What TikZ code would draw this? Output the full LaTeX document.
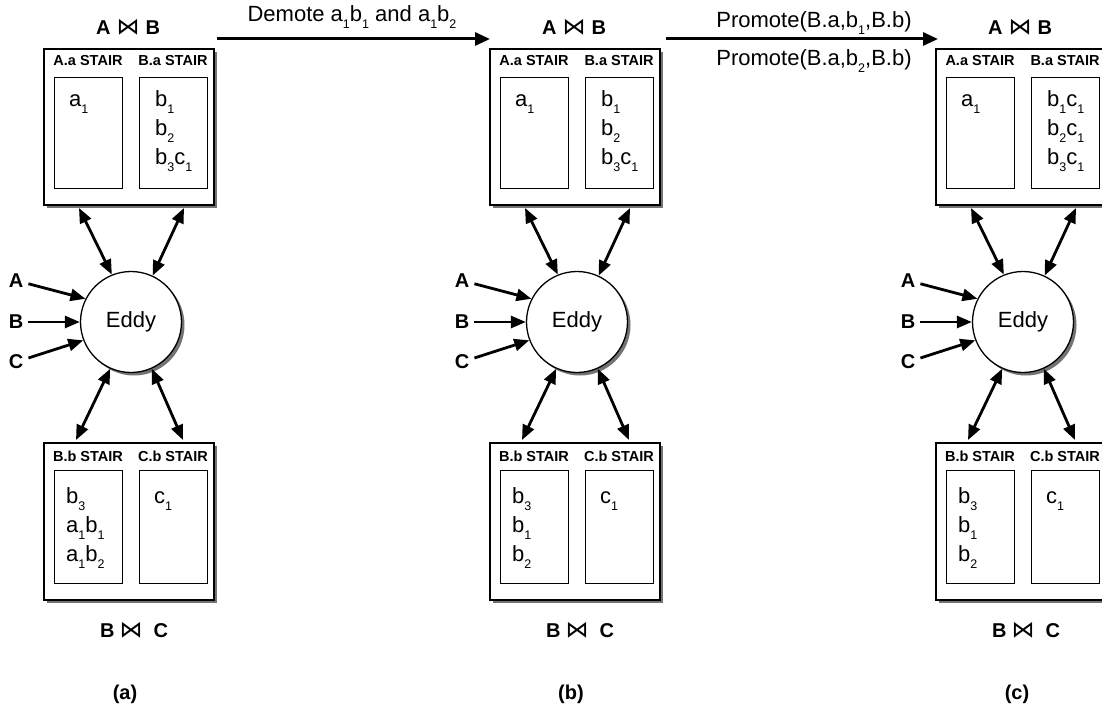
\documentclass[tikz,border=0pt]{standalone}
\usepackage{fontspec}
\setmainfont{Liberation Sans}
\newfontfamily\dejavu{DejaVu Sans}
\usetikzlibrary{arrows.meta,shadows}
\newcommand\sub[1]{\raisebox{-7pt}{\fontsize{12.5}{12}\selectfont #1}}
\newcommand\bowsym{{\dejavu\mdseries\fontsize{23}{23}\selectfont ⋈}}
\tikzset{
  shad/.style={drop shadow={shadow xshift=3pt, shadow yshift=-3pt, fill=black!55, opacity=1}},
  outerbox/.style={draw, line width=1.8pt, fill=white, minimum width=170pt, inner sep=0, shad},
  innerbox/.style={draw, line width=0.8pt, minimum width=68pt, inner sep=0},
  stair/.style={font=\bfseries\fontsize{14.5}{15}\selectfont, anchor=base, inner sep=0},
  cell/.style={font=\fontsize{22}{24}\selectfont, anchor=base west, inner sep=0},
  eddy/.style={circle, draw, line width=1.3pt, fill=white, minimum size=101pt, inner sep=0,
    font=\fontsize{22}{25}\selectfont, shad},
  biarrow/.style={line width=2.8pt, {Triangle[length=15pt,width=12pt]}-{Triangle[length=15pt,width=12pt]}},
  inarrow/.style={line width=2.8pt, -{Triangle[length=15pt,width=12pt]}},
  toparrow/.style={line width=3pt, -{Triangle[length=15pt,width=13pt]}},
  src/.style={font=\bfseries\fontsize{20}{22}\selectfont, inner sep=5pt},
  joinlab/.style={font=\bfseries\fontsize{20}{22}\selectfont, anchor=base, inner sep=0},
  oplab/.style={font=\fontsize{22}{25}\selectfont, anchor=base, inner sep=0},
}
\newcommand\panel[5]{%
\begin{scope}[xshift=#2pt]
  \node[joinlab] (#1ab) at (128,35) {A\hspace{6pt}\bowsym\hspace{6pt}B};
  \node[outerbox, minimum height=156pt] (#1top) at (129,127) {};
  \node[stair] (#1ta) at (88,66) {A.a STAIR};
  \node[stair] (#1tb) at (173,66) {B.a STAIR};
  \node[innerbox, minimum height=111pt] (#1tl) at (88,132.5) {};
  \node[innerbox, minimum height=111pt] (#1tr) at (173,132.5) {};
  \node[cell] (#1a1) at (69,106) {a\sub1};
  \foreach \txt [count=\i] in {#3} \node[cell] (#1r\i) at (155,{106+29*(\i-1)}) {\txt};
  \node[eddy] (#1eddy) at (131,322) {Eddy};
  \node[src] (#1A) at (16,280.5) {A};
  \node[src] (#1B) at (16,322) {B};
  \node[src] (#1C) at (16,362) {C};
  \draw[inarrow] (#1A) -- (#1eddy.153);
  \draw[inarrow] (#1B) -- (#1eddy.180);
  \draw[inarrow] (#1C) -- (#1eddy.201);
  \node[outerbox, minimum height=157pt] (#1bot) at (129,521.5) {};
  \node[stair] (#1ba) at (88,461) {B.b STAIR};
  \node[stair] (#1bb) at (173,461) {C.b STAIR};
  \node[innerbox, minimum height=113pt] (#1bl) at (88,526.5) {};
  \node[innerbox, minimum height=113pt] (#1br) at (173,526.5) {};
  \foreach \txt [count=\i] in {#4} \node[cell] (#1s\i) at (66,{503+29*(\i-1)}) {\txt};
  \node[cell] (#1c1) at (154,503) {c\sub1};
  \coordinate (#1p1) at (79,208);
  \coordinate (#1p2) at (184,208);
  \coordinate (#1p3) at (76,440);
  \coordinate (#1p4) at (183,440);
  \draw[biarrow] (#1p1) -- (#1eddy.112);
  \draw[biarrow] (#1p2) -- (#1eddy.65);
  \draw[biarrow] (#1p3) -- (#1eddy.246);
  \draw[biarrow] (#1p4) -- (#1eddy.294);
  \node[joinlab] (#1bc) at (134,637) {B\hspace{5pt}\bowsym\hspace{11pt}C};
  \node[joinlab] (#1cap) at (125,699) {(#5)};
\end{scope}}
\begin{document}
\begin{tikzpicture}[x=1pt,y=-1pt]
  \clip (0,0) rectangle (1102,709);
  \panel{pa}{0}{b\sub1,b\sub2,b\sub3c\sub1}{b\sub3,a\sub1b\sub1,a\sub1b\sub2}{a}
  \panel{pb}{446}{b\sub1,b\sub2,b\sub3c\sub1}{b\sub3,b\sub1,b\sub2}{b}
  \panel{pc}{892}{b\sub1c\sub1,b\sub2c\sub1,b\sub3c\sub1}{b\sub3,b\sub1,b\sub2}{c}
  \coordinate (d1) at (217,39);
  \coordinate (d2) at (490,39);
  \draw[toparrow] (d1) -- (d2);
  \node[oplab] (demote) at (352,22) {Demote a\sub1b\sub1 and a\sub1b\sub2};
  \coordinate (e1) at (666,39);
  \coordinate (e2) at (938,39);
  \draw[toparrow] (e1) -- (e2);
  \node[oplab] (prom1) at (814,28) {Promote(B.a,b\sub1,B.b)};
  \node[oplab] (prom2) at (814,66) {Promote(B.a,b\sub2,B.b)};
\end{tikzpicture}
\end{document}
